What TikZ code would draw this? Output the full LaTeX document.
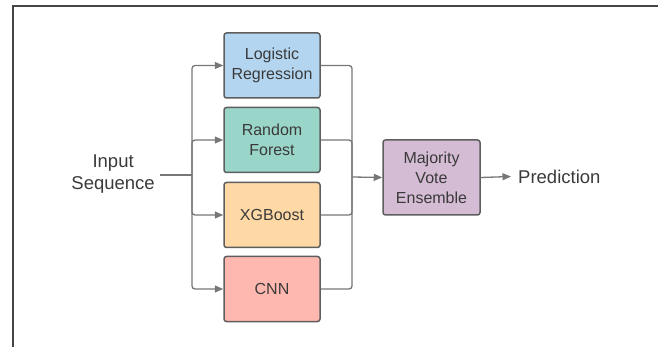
\documentclass[tikz,border=0pt]{standalone}
\usepackage{fontspec}
\setmainfont{Liberation Sans}
\usetikzlibrary{arrows.meta}
\definecolor{lrc}{HTML}{B3D5F0}
\definecolor{rfc}{HTML}{9AD5C9}
\definecolor{xgc}{HTML}{FED9A6}
\definecolor{cnc}{HTML}{FFB8AF}
\definecolor{mjc}{HTML}{D4BCD4}
\definecolor{bord}{HTML}{5E5E5E}
\definecolor{conc}{HTML}{777777}
\definecolor{txt}{HTML}{3A3A3A}
\definecolor{frm}{HTML}{454545}
\tikzset{
  model/.style={draw=bord, line width=1.5pt, rounded corners=2.5pt, minimum width=96pt, minimum height=65pt, align=center, text=txt, font=\fontsize{16}{20}\selectfont, inner sep=0pt},
  conn/.style={draw=conc, line width=1.3pt, rounded corners=3pt},
  arr/.style={conn, -{Triangle[length=8.5pt,width=7pt]}},
  label/.style={text=txt, align=center, font=\fontsize{18.5}{22}\selectfont, inner sep=0pt}
}
\begin{document}
\begin{tikzpicture}[x=1pt, y=-1pt]
\useasboundingbox (0,0) rectangle (658,347);
\draw[frm, line width=2pt] (12.5,348) -- (12.5,6.5) -- (660,6.5);
\node[model, fill=lrc] (lr) at (272,65.5) {Logistic\\Regression};
\node[model, fill=rfc] (rf) at (272,140) {Random\\Forest};
\node[model, fill=xgc] (xg) at (272,215) {XGBoost};
\node[model, fill=cnc] (cn) at (272,289) {CNN};
\node[model, fill=mjc, minimum width=97pt, minimum height=75pt] (mj) at (431.5,177.5) {Majority\\Vote\\Ensemble};
\node[label, anchor=east] (in) at (155,174) {Input\\Sequence};
\node[label, anchor=west] (pr) at (518,176.5) {Prediction};
\coordinate (lb) at (192,175);
\coordinate (rb) at (352,177);
\draw[conn] (in.east |- lb) ++(5,0) -- (lb);
\foreach \b in {lr,rf,xg,cn}{
  \draw[arr] (lb) |- (\b.west);
  \draw[conn] (\b.east) -| (rb);
}
\draw[arr] (rb) -- (mj.west);
\draw[arr] (mj.east) -- ([xshift=-7pt]pr.west);
\end{tikzpicture}
\end{document}
